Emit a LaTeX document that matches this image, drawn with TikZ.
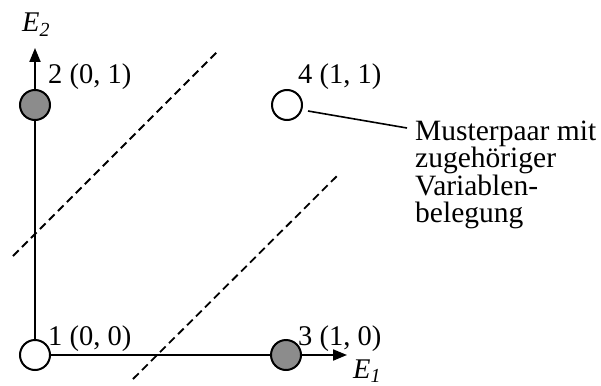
\documentclass[tikz,border=0pt]{standalone}
\usepackage{fontspec}
\setmainfont{Liberation Serif}
\usetikzlibrary{arrows.meta}
\begin{document}
\begin{tikzpicture}[x=1pt,y=-1pt,
  pt/.style={circle,draw,line width=2pt,minimum size=30pt,inner sep=0pt},
  hit/.style={pt,fill={rgb,255:red,140;green,140;blue,140}},
  miss/.style={pt,fill=white},
  lbl/.style={anchor=base west,inner sep=0pt,font=\fontsize{28.5}{28.5}\selectfont},
  axis/.style={line width=2pt,-{Triangle[length=14pt,width=11pt]}},
  sep/.style={line width=1.8pt,dash pattern=on 8pt off 4.7pt},
  note/.style={anchor=base west,inner sep=0pt,font=\fontsize{29.5}{29.5}\selectfont}]
\useasboundingbox (0,0) rectangle (601,385);
% axes
\coordinate (o) at (35,355);
\coordinate (xt) at (347,355);
\coordinate (yt) at (35,48);
\draw[axis] (o) -- (xt);
\draw[axis] (o) -- (yt);
% separating lines
\coordinate (a1) at (13,256);
\coordinate (a2) at (218,51);
\coordinate (b1) at (133,379);
\coordinate (b2) at (340,173);
\draw[sep] (a1) -- (a2);
\draw[sep] (b1) -- (b2);
% points
\node[miss] (c1) at (35,355) {};
\node[hit]  (c2) at (35,105) {};
\node[hit]  (c3) at (286,355) {};
\node[miss] (c4) at (287,105) {};
\node[lbl] (t1) at (48,345) {1 (0, 0)};
\node[lbl] (t2) at (48,84) {2 (0, 1)};
\node[lbl] (t3) at (298,345) {3 (1, 0)};
\node[lbl] (t4) at (298,84) {4 (1, 1)};
% axis labels
\node[lbl] (e1) at (353,378) {\textit{E}\textsubscript{\textit{1}}};
\node[lbl] (e2) at (22,32) {\textit{E}\textsubscript{\textit{2}}};
% annotation
\node[note] (n1) at (415,140) {Musterpaar mit};
\node[note] (n2) at (415,167.5) {zugehöriger};
\node[note] (n3) at (415,195) {Variablen-};
\node[note] (n4) at (415,222.5) {belegung};
\coordinate (l1) at (308,111);
\coordinate (l2) at (407,128);
\draw[line width=1.6pt] (l1) -- (l2);
\end{tikzpicture}
\end{document}
